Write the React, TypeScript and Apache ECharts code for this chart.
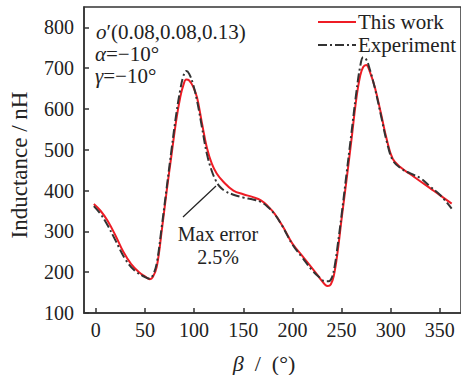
import React, { useEffect, useRef } from "react";
import * as echarts from "echarts";

const FONT = "'Liberation Serif', 'Times New Roman', serif";

const xTicks = [0, 50, 100, 150, 200, 250, 300, 350];
const yTicks = [100, 200, 300, 400, 500, 600, 700, 800];
const seriesNames = ["This work", "Experiment"];
const seriesColors = ["#ee1c25", "#333333"];

const thisWorkBeta = [
  -2, 5, 12, 20, 28, 36, 44, 50, 55, 58, 62, 67, 72, 77, 82, 86, 89, 92, 95, 99,
  103, 108, 113, 118, 123, 130, 140, 150, 160, 168, 175, 182, 190, 200, 210, 220,
  228, 233, 236, 239, 242, 246, 250, 255, 260, 265, 269, 272, 275, 279, 284, 290,
  296, 302, 310, 320, 330, 340, 350, 362,
];
const thisWorkValues = [
  367, 350, 326, 290, 250, 220, 200, 190, 183, 188, 213, 300, 397, 487, 575, 630,
  658, 672, 670, 655, 628, 565, 505, 466, 442, 421, 400, 391, 384, 376, 362, 343,
  313, 270, 240, 210, 185, 170, 166, 170, 190, 250, 330, 425, 523, 625, 682, 703,
  708, 690, 652, 590, 525, 478, 457, 440, 423, 406, 389, 368,
];

const experimentBeta = [
  -2, 5, 12, 20, 30, 40, 50, 55, 58, 62, 67, 72, 77, 82, 86, 89, 92, 95, 99, 103,
  108, 113, 118, 122, 126, 132, 140, 150, 160, 168, 175, 182, 190, 200, 210, 220,
  228, 233, 237, 240, 243, 246, 250, 255, 260, 265, 269, 272, 275, 279, 284, 290,
  296, 302, 310, 320, 330, 340, 350, 362,
];
const experimentValues = [
  362, 342, 315, 278, 232, 203, 188, 184, 192, 222, 310, 405, 500, 590, 648, 680,
  693, 686, 660, 620, 555, 490, 448, 425, 410, 398, 390, 383, 378, 372, 360, 342,
  312, 268, 236, 205, 186, 178, 178, 186, 215, 265, 340, 440, 540, 640, 705, 727,
  722, 695, 650, 585, 520, 475, 455, 442, 431, 410, 390, 356,
];

const DASH = [9, 3, 2, 3];

export default function App() {
  const ref = useRef<HTMLDivElement>(null);

  useEffect(() => {
    if (!ref.current) return;
    const chart = echarts.init(ref.current, undefined, { renderer: "svg" });
    const pair = (xs: number[], ys: number[]) => xs.map((x, i) => [x, ys[i]]);
    const baseText = { fontFamily: FONT, fontSize: 21, fill: "#222" };
    const italic = { fontFamily: FONT, fontSize: 21, fontStyle: "italic", fill: "#222" };

    chart.setOption({
      animation: false,
      backgroundColor: "#fff",
      grid: {
        left: 84,
        right: -2,
        top: 7,
        bottom: 62,
        show: true,
        borderColor: "#333",
        borderWidth: 1.5,
      },
      legend: { show: false, data: seriesNames },
      xAxis: {
        type: "value",
        min: -12,
        max: 371.5,
        splitLine: { show: false },
        axisLine: { onZero: false, lineStyle: { color: "#333", width: 1.5 } },
        axisTick: {
          inside: true,
          length: 5,
          customValues: xTicks,
          lineStyle: { color: "#333", width: 1.5 },
        },
        axisLabel: {
          customValues: xTicks,
          margin: 7,
          fontFamily: FONT,
          fontSize: 20,
          color: "#222",
        },
      },
      yAxis: {
        type: "value",
        min: 100,
        max: 850,
        splitLine: { show: false },
        axisLine: { show: true, onZero: false, lineStyle: { color: "#333", width: 1.5 } },
        axisTick: {
          show: true,
          inside: true,
          length: 5,
          customValues: yTicks,
          lineStyle: { color: "#333", width: 1.5 },
        },
        axisLabel: {
          customValues: yTicks,
          margin: 10,
          fontFamily: FONT,
          fontSize: 20,
          color: "#222",
        },
      },
      series: [
        {
          name: seriesNames[0],
          type: "line",
          data: pair(thisWorkBeta, thisWorkValues),
          smooth: 0.4,
          symbol: "none",
          lineStyle: { color: seriesColors[0], width: 2 },
          itemStyle: { color: seriesColors[0] },
        },
        {
          name: seriesNames[1],
          type: "line",
          data: pair(experimentBeta, experimentValues),
          smooth: 0.4,
          symbol: "none",
          lineStyle: { color: seriesColors[1], width: 2, type: DASH },
          itemStyle: { color: seriesColors[1] },
        },
      ],
      graphic: [
        // legend
        {
          type: "line",
          shape: { x1: 318, y1: 22, x2: 356, y2: 22 },
          style: { stroke: seriesColors[0], lineWidth: 2 },
        },
        {
          type: "text",
          left: 358,
          top: 11,
          style: { ...baseText, text: seriesNames[0] },
        },
        {
          type: "line",
          shape: { x1: 318, y1: 45, x2: 356, y2: 45 },
          style: { stroke: seriesColors[1], lineWidth: 2, lineDash: DASH },
        },
        {
          type: "text",
          left: 358,
          top: 34,
          style: { ...baseText, text: seriesNames[1] },
        },
        // parameters
        {
          type: "text",
          left: 96,
          top: 21,
          style: { ...baseText, text: "{i|o}′(0.08,0.08,0.13)", rich: { i: italic } },
        },
        {
          type: "text",
          left: 95,
          top: 43,
          style: { ...baseText, text: "{i|α}=−10°", rich: { i: italic } },
        },
        {
          type: "text",
          left: 95,
          top: 65,
          style: { ...baseText, text: "{i|γ}=−10°", rich: { i: italic } },
        },
        // annotation
        {
          type: "line",
          shape: { x1: 183, y1: 217, x2: 216, y2: 186 },
          style: { stroke: "#222", lineWidth: 1.2 },
        },
        {
          type: "text",
          x: 218,
          y: 234,
          style: { ...baseText, fontSize: 20, text: "Max error", align: "center", verticalAlign: "middle" },
        },
        {
          type: "text",
          x: 218,
          y: 257,
          style: { ...baseText, fontSize: 20, text: "2.5%", align: "center", verticalAlign: "middle" },
        },
        // axis names
        {
          type: "text",
          x: 19,
          y: 165,
          rotation: Math.PI / 2,
          style: {
            ...baseText,
            fontSize: 23,
            text: "Inductance / nH",
            align: "center",
            verticalAlign: "middle",
          },
        },
        {
          type: "text",
          x: 264,
          y: 363,
          style: {
            ...baseText,
            fontSize: 22,
            text: "{i|β}  /  (°)",
            align: "center",
            verticalAlign: "middle",
            rich: { i: { ...italic, fontSize: 22 } },
          },
        },
      ],
    });
    return () => chart.dispose();
  }, []);

  return (
    <div
      ref={ref}
      style={{ position: "absolute", left: 0, top: 0, width: 461, height: 375, background: "#fff" }}
    />
  );
}
